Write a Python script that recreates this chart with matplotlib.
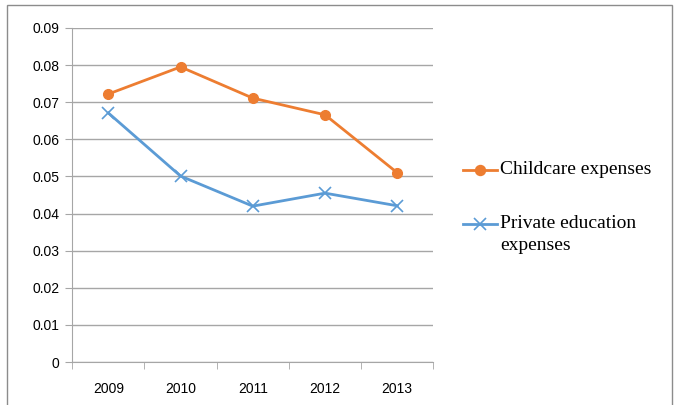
import matplotlib
matplotlib.use("Agg")
import matplotlib.pyplot as plt
from matplotlib.patches import Rectangle
from matplotlib.lines import Line2D
import numpy as np

years = ["2009", "2010", "2011", "2012", "2013"]
childcare = [0.0722, 0.0795, 0.0711, 0.0666, 0.0510]
private_edu = [0.0671, 0.0501, 0.0420, 0.0455, 0.0421]
yticks = [0, 0.01, 0.02, 0.03, 0.04, 0.05, 0.06, 0.07, 0.08, 0.09]
ytick_labels = ["0", "0.01", "0.02", "0.03", "0.04", "0.05", "0.06", "0.07", "0.08", "0.09"]

ORANGE = "#ED7D31"
BLUE = "#5B9BD5"
GRID = "#A6A6A6"
W, H = 675, 405

fig = plt.figure(figsize=(6.75, 4.05), dpi=100)
ax = fig.add_axes([0.107, 0.106, 0.535, 0.825])

x = np.arange(len(years))
ax.plot(x, childcare, color=ORANGE, lw=2, marker="o", ms=7, zorder=3)
ax.plot(x, private_edu, color=BLUE, lw=2, marker="x", ms=8, mew=1.2, zorder=3)

ax.set_xlim(-0.5, len(years) - 0.5)
ax.set_ylim(0, 0.09)
ax.set_yticks(yticks)
ax.set_yticklabels(ytick_labels, fontsize=10, family="Liberation Sans")
ax.set_xticks(x)
ax.set_xticklabels(years, fontsize=10, family="Liberation Sans")
ax.set_xticks(np.arange(len(years) + 1) - 0.5, minor=True)
ax.tick_params(axis="x", which="major", length=0, pad=14)
ax.tick_params(axis="x", which="minor", length=5, color=GRID)
ax.tick_params(axis="y", length=5, color=GRID, pad=4)
ax.grid(axis="y", color=GRID, lw=1)
ax.set_axisbelow(True)
for s in ["top", "right"]:
    ax.spines[s].set_visible(False)
ax.spines["left"].set_color(GRID)
ax.spines["bottom"].set_color(GRID)

# legend built by hand (handle sits on the first text line, like Excel)
def legend_entry(ypx, color, marker, ms, lines):
    y = 1 - ypx / H
    fig.add_artist(Line2D([463 / W, 497 / W], [y, y], color=color, lw=2,
                          transform=fig.transFigure))
    fig.add_artist(Line2D([480 / W], [y], color=color, marker=marker, ms=ms,
                          mew=1.2, transform=fig.transFigure))
    for i, txt in enumerate(lines):
        fig.text(500 / W, 1 - (ypx + 22 * i) / H, txt, va="center", ha="left",
                 family="Liberation Serif", fontsize=14)

legend_entry(170, ORANGE, "o", 7, ["Childcare expenses"])
legend_entry(224, BLUE, "x", 8, ["Private education", "expenses"])

fig.patches.append(Rectangle((0.011, -0.01), 0.985, 0.997, transform=fig.transFigure,
                             fill=False, edgecolor="#8C8C8C", lw=1))

fig.savefig("out.png", dpi=100)
